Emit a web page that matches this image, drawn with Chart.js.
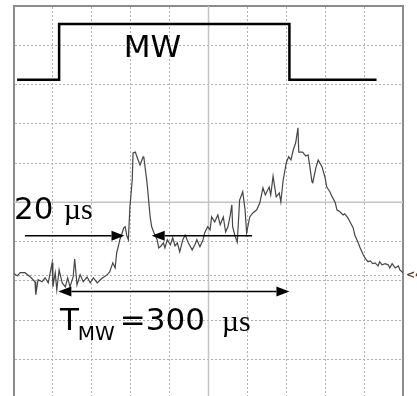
<!DOCTYPE html>
<html>
<head>
<meta charset="utf-8">
<script src="https://cdn.jsdelivr.net/npm/chart.js@4"></script>
<style>
  html, body { margin: 0; padding: 0; background: #fff; overflow: hidden; }
  #myChart { display: block; }
</style>
</head>
<body>
<canvas id="myChart" width="417" height="396"></canvas>
<script>
//** SCOPE TRACE DATA (time in µs, signal in screen divisions) */
const traceTime = [
  0, 4, 8, 14, 21, 27, 28, 31, 36, 40, 44, 49, 50, 53, 55, 58, 62, 66, 69, 72,
  76, 78, 81, 85, 89, 94, 98, 102, 107, 111, 114, 120, 123, 127, 130, 132, 134, 136, 139, 141,
  143, 145, 147, 149, 152, 153, 156, 158, 162, 166, 167, 171, 175, 177, 180, 184, 186, 189, 192, 194,
  197, 201, 204, 207, 210, 213, 217, 220, 224, 229, 233, 235, 239, 243, 245, 249, 252, 254, 258, 262,
  265, 269, 272, 275, 278, 280, 281, 284, 287, 290, 294, 297, 299, 303, 307, 312, 316, 320, 323, 325,
  328, 330, 333, 337, 341, 343, 346, 350, 353, 356, 359, 362, 365, 366, 371, 375, 378, 380, 383, 384,
  388, 391, 393, 396, 400, 402, 406, 409, 413, 415, 419, 423, 425, 429, 432, 436, 438, 442, 445, 449,
  452, 455, 458, 461, 464, 468, 470, 473, 477, 481, 483, 486, 490, 494, 496, 500
];
const traceSignal = [
  -1.82, -1.87, -1.79, -1.79, -1.90, -2.02, -2.35, -1.97, -2.02, -1.92, -2.05, -1.54, -2.15, -1.79, -2.23, -1.72, -2.05, -2.15, -1.92, -2.15,
  -1.90, -1.44, -2.10, -1.84, -2.02, -1.90, -2.05, -1.92, -2.05, -1.97, -1.92, -1.84, -1.77, -1.54, -1.67, -1.28, -1.13, -0.95, -0.78, -0.65,
  -0.62, -0.85, -0.95, -0.11, 0.57, 1.26, 1.28, 1.16, 0.95, 1.16, 1.13, 0.50, -0.37, -0.62, -0.78, -0.95, -1.16, -1.11, -1.03, -1.16,
  -0.95, -1.08, -0.90, -1.11, -1.03, -1.26, -0.95, -0.83, -1.03, -1.21, -1.06, -0.95, -1.13, -0.95, -0.78, -0.62, -0.70, -0.37, -0.50, -0.32,
  -0.57, -0.37, -0.75, -0.62, -0.32, -0.06, -0.62, -0.85, -1.01, 0.06, 0.27, -0.19, -0.78, -0.37, -0.27, -0.19, -0.01, 0.37, 0.19, 0.27,
  0.39, 0.19, 0.67, 0.14, 0.24, 0.01, 0.57, 1.01, 1.16, 1.08, 1.34, 1.51, 1.90, 1.28, 1.28, 1.18, 1.21, 0.95, 0.52, 0.50,
  0.88, 1.08, 1.01, 0.90, 0.62, 0.39, 0.27, 0.14, -0.01, -0.19, -0.24, -0.32, -0.29, -0.39, -0.50, -0.65, -0.83, -1.01, -1.16, -1.34,
  -1.44, -1.51, -1.49, -1.56, -1.54, -1.62, -1.51, -1.59, -1.56, -1.59, -1.67, -1.56, -1.67, -1.62, -1.72, -1.79
];

//** MW GATE PULSE */
const pulseTime = [4, 58, 58, 354, 354, 466];
const pulseLevel = [3.12, 3.12, 4.54, 4.54, 3.12, 3.12];

//** GRID (µs and divisions) */
const xGridValues = [50, 100, 150, 200, 300, 350, 400, 450];
const yGridValues = [-4, -3, -2, -1, 1, 2, 3, 4];
const xCentre = 250;
const yCentre = 0;
const markerLevel = -1.84;

//** ARROWS AND LABELS */
const arrows = [
  { from: 14, to: 142, y: -0.85, both: false },
  { from: 306, to: 177, y: -0.85, both: false },
  { from: 57, to: 354, y: -2.27, both: true },
];
const labels = [
  { text: 'MW', x: 141, y: 3.71, font: "31px 'DejaVu Sans'" },
  { text: '20', x: 0, y: -0.42, font: "31px 'DejaVu Sans'" },
  { text: 'µs', x: 64, y: -0.42, font: "30px 'Liberation Serif'" },
  { text: 'T', x: 59, y: -3.25, font: "31px 'DejaVu Sans'" },
  { text: 'MW', x: 82, y: -3.50, font: "20px 'DejaVu Sans'" },
  { text: '=300', x: 136, y: -3.25, font: "31px 'DejaVu Sans'" },
  { text: 'µs', x: 267, y: -3.28, font: "30px 'Liberation Serif'" },
];

const gridColor = 'rgb(175,175,175)';
const frameColor = 'rgb(140,140,140)';

//** DRAW CENTRE LINES + MARKER UNDER THE TRACE */
const scopeBackground = {
  id: 'scopeBackground',
  beforeDatasetsDraw(chart) {
    const { ctx, chartArea: a, scales: { x, y } } = chart;
    ctx.save();
    ctx.strokeStyle = 'rgb(195,195,195)';
    ctx.lineWidth = 1.5;
    ctx.beginPath();
    const cx = x.getPixelForValue(xCentre);
    const cy = y.getPixelForValue(yCentre);
    ctx.moveTo(cx, a.top); ctx.lineTo(cx, a.bottom);
    ctx.moveTo(a.left, cy); ctx.lineTo(a.right, cy);
    ctx.stroke();
    // ground marker line
    ctx.strokeStyle = gridColor;
    ctx.lineWidth = 1;
    ctx.setLineDash([2, 2]);
    const my = Math.round(y.getPixelForValue(markerLevel)) + 0.5;
    ctx.beginPath();
    ctx.moveTo(a.left, my); ctx.lineTo(a.right, my);
    ctx.stroke();
    ctx.restore();
  }
};

//** ARROWS AND TEXT ON TOP */
const scopeOverlay = {
  id: 'scopeOverlay',
  afterDatasetsDraw(chart) {
    const { ctx, chartArea: a, scales: { x, y } } = chart;
    ctx.save();
    ctx.fillStyle = '#000';
    ctx.strokeStyle = '#000';
    ctx.lineWidth = 1.5;
    arrows.forEach(ar => {
      const x1 = x.getPixelForValue(ar.from);
      const x2 = x.getPixelForValue(ar.to);
      const py = y.getPixelForValue(ar.y);
      const dir = x2 > x1 ? 1 : -1;
      const len = 13, half = 5;
      ctx.beginPath();
      ctx.moveTo(ar.both ? x1 + dir * len : x1, py);
      ctx.lineTo(x2 - dir * len, py);
      ctx.stroke();
      ctx.beginPath();
      ctx.moveTo(x2, py);
      ctx.lineTo(x2 - dir * len, py - half);
      ctx.lineTo(x2 - dir * len, py + half);
      ctx.closePath();
      ctx.fill();
      if (ar.both) {
        ctx.beginPath();
        ctx.moveTo(x1, py);
        ctx.lineTo(x1 + dir * len, py - half);
        ctx.lineTo(x1 + dir * len, py + half);
        ctx.closePath();
        ctx.fill();
      }
    });
    ctx.textBaseline = 'alphabetic';
    ctx.textAlign = 'left';
    labels.forEach(l => {
      ctx.font = l.font;
      ctx.fillText(l.text, x.getPixelForValue(l.x), y.getPixelForValue(l.y));
    });
    // channel marker, cut by the edge of the picture
    ctx.fillStyle = 'rgb(90,60,40)';
    ctx.font = "bold 11px 'DejaVu Sans'";
    ctx.textBaseline = 'middle';
    ctx.fillText('<4', a.right + 3, y.getPixelForValue(markerLevel) + 1);
    ctx.restore();
  }
};

const ctx = document.getElementById('myChart');

const chart = new Chart(ctx, {
  type: 'line',
  data: {
    datasets: [
      {
        label: 'Signal',
        data: traceTime.map((t, i) => ({ x: t, y: traceSignal[i] })),
        borderColor: 'rgb(70,70,70)',
        borderWidth: 1.2,
        pointRadius: 0,
        tension: 0,
        fill: false,
      },
      {
        label: 'MW',
        data: pulseTime.map((t, i) => ({ x: t, y: pulseLevel[i] })),
        borderColor: '#000',
        borderWidth: 2.5,
        pointRadius: 0,
        tension: 0,
        fill: false,
      },
    ],
  },
  options: {
    responsive: false,
    animation: false,
    layout: { padding: { left: 14, right: 14, top: 6, bottom: 0 } },
    plugins: {
      legend: { display: false },
      tooltip: { enabled: false },
    },
    scales: {
      x: {
        type: 'linear',
        position: 'top',
        min: 0,
        max: 500,
        afterBuildTicks: s => { s.ticks = xGridValues.map(v => ({ value: v })); },
        ticks: { display: false },
        grid: { color: gridColor, lineWidth: 1, drawTicks: false },
        border: { display: true, color: frameColor, width: 2, dash: [2, 2] },
      },
      y: {
        type: 'linear',
        min: -4.93,
        max: 5,
        afterBuildTicks: s => { s.ticks = yGridValues.map(v => ({ value: v })); },
        ticks: { display: false },
        grid: { color: gridColor, lineWidth: 1, drawTicks: false },
        border: { display: true, color: frameColor, width: 2, dash: [2, 2] },
      },
      y2: {
        type: 'linear',
        position: 'right',
        min: 0,
        max: 1,
        ticks: { display: false },
        grid: { display: false, drawTicks: false },
        border: { display: true, color: frameColor, width: 2 },
      },
    },
  },
  plugins: [scopeBackground, scopeOverlay],
});
</script>
</body>
</html>
